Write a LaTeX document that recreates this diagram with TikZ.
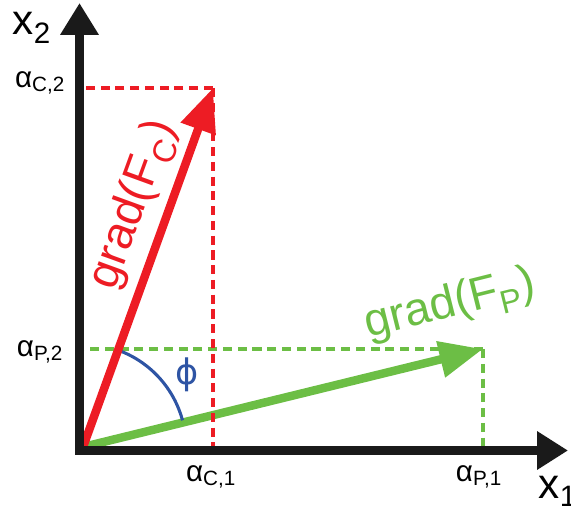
\documentclass[tikz,border=0pt]{standalone}
\usepackage{fontspec}
\setmainfont{Liberation Sans}
\newfontfamily\phifont{DejaVu Sans}
\usetikzlibrary{arrows.meta,positioning}
\definecolor{gradred}{RGB}{237,28,36}
\definecolor{gradgreen}{RGB}{108,190,69}
\definecolor{phiblue}{RGB}{46,84,164}
\definecolor{axisblack}{RGB}{26,26,26}

\begin{document}
\begin{tikzpicture}[x=0.025cm,y=0.025cm,
  axis/.style={draw=axisblack,line width=5.7pt,line join=miter,
    {Triangle[length=22.7pt,width=26pt]}-{Triangle[length=22pt,width=26pt]}},
  vec/.style={line width=6pt,-{Triangle[length=31pt,width=25pt]}},
  guide/.style={line width=2.2pt,dash pattern=on 6.5pt off 4pt},
  axlbl/.style={inner sep=0pt,font=\fontsize{30}{34}\selectfont},
  comp/.style={inner sep=0pt,font=\fontsize{21}{24}\selectfont},
  gradlbl/.style={inner sep=0pt,font=\fontsize{33}{38}\selectfont}]
\useasboundingbox (0,0) rectangle (571,518);
% axes and vectors
\coordinate (ytop) at (79.5,515);
\coordinate (corner) at (79.5,67.5);
\coordinate (xend) at (568,67.5);
\coordinate (O) at (83,71);
\coordinate (fc) at (213,430);
\coordinate (fp) at (483,169);
\draw[guide,gradgreen] (fp) -- (fp -| corner);
\draw[guide,gradgreen] (fp) -- (fp |- corner);
\draw[vec,gradgreen] (O) -- (fp);
\draw[guide,gradred] (fc) -- (fc -| corner);
\draw[guide,gradred] (fc) -- (fc |- corner);
\draw[phiblue,line width=2.2pt] (O) ++(15:103) arc[start angle=15,end angle=69,radius=103];
\draw[vec,gradred] (O) -- (fc);
\draw[axis] (ytop) -- (corner) -- (xend);
% labels
\node[axlbl] (x2) at (32,490) {x\textsubscript{2}};
\node[axlbl] (x1) at (558,27) {x\textsubscript{1}};
\node[comp] (ac2) at (40,435) {α\textsubscript{C,2}};
\node[comp] (ap2) at (40,166) {α\textsubscript{P,2}};
\node[comp] (ac1) at (211,41) {α\textsubscript{C,1}};
\node[comp] (ap1) at (479,41) {α\textsubscript{P,1}};
\node[gradlbl,text=gradred,rotate=70] (gc) at (134,313) {grad(F\textsubscript{C})};
\node[gradlbl,text=gradgreen,rotate=14] (gp) at (450,213) {grad(F\textsubscript{P})};
\node[inner sep=0pt,font=\fontsize{25}{28}\selectfont,text=phiblue] (phi) at (187,143) {\phifont ϕ};
\end{tikzpicture}
\end{document}
